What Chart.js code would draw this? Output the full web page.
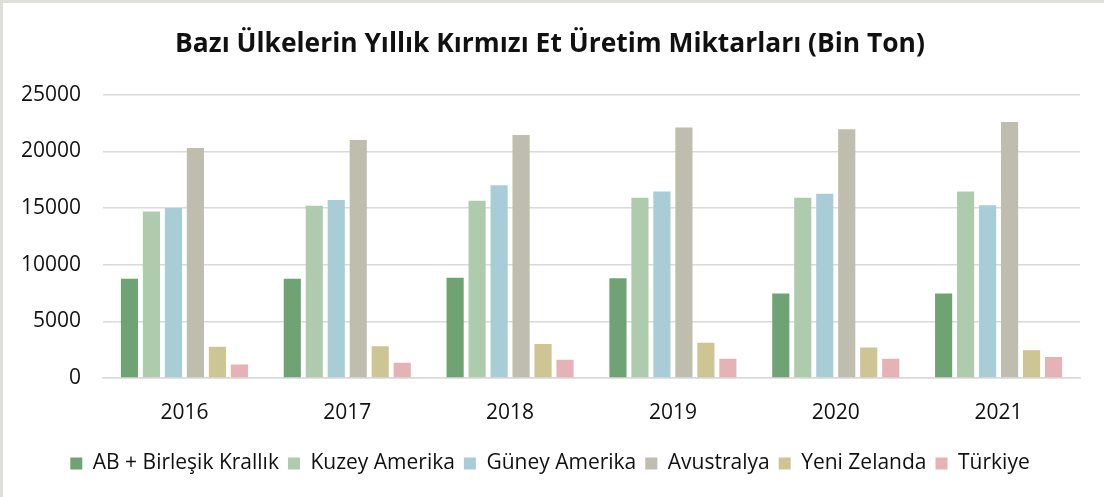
<!DOCTYPE html>
<html>
<head>
<meta charset="utf-8">
<script src="https://cdn.jsdelivr.net/npm/chart.js@4/dist/chart.umd.min.js"></script>
<style>
  html, body { margin: 0; padding: 0; background: #dfdfdb; overflow: hidden; }
  #frame { position: absolute; left: 3px; top: 3px; width: 1101px; height: 494px; background: #ffffff; }
  canvas { display: block; }
</style>
</head>
<body>
<div id="frame"><canvas id="chart" width="1101" height="494"></canvas></div>
<script>
// Yıllar
const years = ['2016', '2017', '2018', '2019', '2020', '2021'];

// Bölgelere göre kırmızı et üretimi (bin ton)
const abIngiltere = [8750, 8750, 8850, 8800, 7450, 7450];
const kuzeyAmerika = [14700, 15200, 15650, 15900, 15900, 16450];
const guneyAmerika = [15000, 15700, 17000, 16450, 16250, 15250];
const avustralya = [20300, 21000, 21450, 22100, 21950, 22600];
const yeniZelanda = [2750, 2800, 3000, 3100, 2700, 2450];
const turkiye = [1200, 1350, 1600, 1700, 1700, 1850];

// Y ekseni etiketleri
const yTicks = [0, 5000, 10000, 15000, 20000, 25000];

const seriesNames = ['AB + Birleşik Krallık', 'Kuzey Amerika', 'Güney Amerika', 'Avustralya', 'Yeni Zelanda', 'Türkiye'];
const seriesData = [abIngiltere, kuzeyAmerika, guneyAmerika, avustralya, yeniZelanda, turkiye];
const seriesColors = ['#70a373', '#afcbae', '#a9cdd6', '#bfbdad', '#cdc593', '#e5b3b5'];

const FONT = "'Open Sans', 'DejaVu Sans', sans-serif";

new Chart(document.getElementById('chart'), {
  type: 'bar',
  data: {
    labels: years,
    datasets: seriesNames.map((name, i) => ({
      label: name,
      data: seriesData[i],
      backgroundColor: seriesColors[i],
      borderWidth: 0,
      barPercentage: 0.78,
      categoryPercentage: 0.81
    }))
  },
  options: {
    responsive: false,
    animation: false,
    layout: { padding: { left: 17, right: 24, top: 15, bottom: 13 } },
    plugins: {
      title: {
        display: true,
        text: 'Bazı Ülkelerin Yıllık Kırmızı Et Üretim Miktarları (Bin Ton)',
        color: '#111111',
        font: { family: FONT, size: 26.4, weight: 'bold', lineHeight: 1.2 },
        padding: { top: 11, bottom: 34 }
      },
      legend: {
        position: 'bottom',
        labels: {
          color: '#111111',
          font: { family: FONT, size: 21 },
          boxWidth: 12,
          boxHeight: 12,
          padding: 9
        }
      },
      tooltip: { enabled: false }
    },
    scales: {
      x: {
        grid: { display: false, drawTicks: false },
        border: { display: true, color: '#d9d9d9', width: 1.5 },
        ticks: { color: '#111111', font: { family: FONT, size: 21 }, padding: 22 },
        afterFit: (scale) => { scale.height = 66; }
      },
      y: {
        min: 0,
        max: 25000,
        afterBuildTicks: (scale) => { scale.ticks = yTicks.map(v => ({ value: v })); },
        grid: { color: '#d9d9d9', lineWidth: 1.5, drawTicks: false },
        border: { display: false },
        ticks: {
          color: '#111111',
          font: { family: FONT, size: 21 },
          padding: 22,
          callback: (v) => String(v)
        },
        afterFit: (scale) => { scale.width = 83; }
      }
    }
  }
});
</script>
</body>
</html>
